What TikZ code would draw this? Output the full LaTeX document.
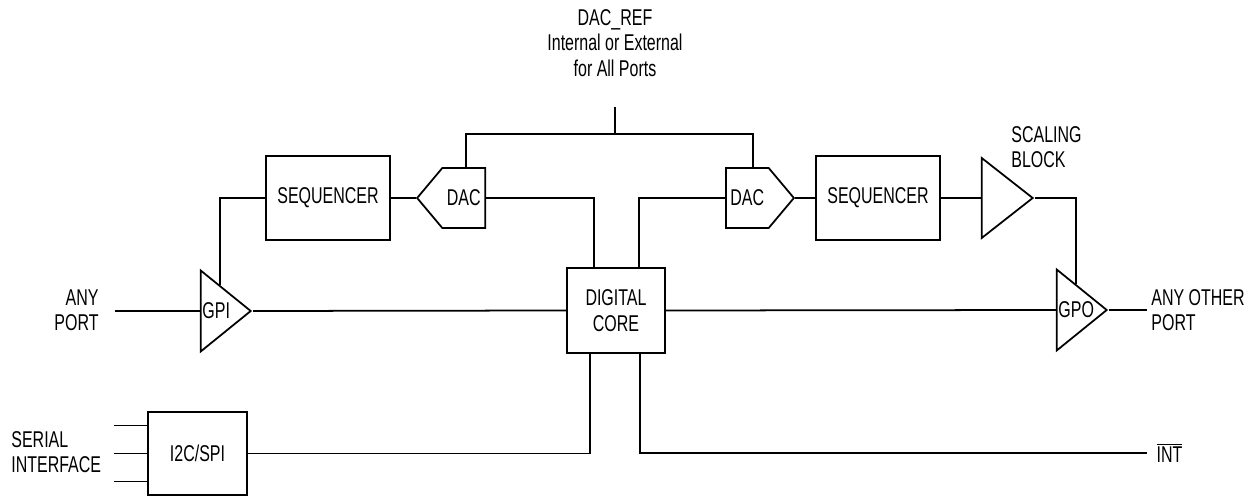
\documentclass[tikz,border=0pt]{standalone}
\usepackage{fontspec}
\setmainfont{Liberation Sans}[FakeStretch=0.7]
\usetikzlibrary{positioning, shapes.geometric, shapes.symbols}

\begin{document}
\begin{tikzpicture}[
        % Échelle : une unité = un pixel de l'image
        x=0.02cm, y=-0.02cm,
        line width=1pt,
        every node/.style = {font=\fontsize{13}{14.5}\selectfont},
        % Blocs rectangulaires
        block/.style = {
            rectangle,
            draw,
            line width=1pt,
            inner sep=0pt,
            align=center
        },
        % Convertisseurs (forme en flèche)
        dac/.style = {
            signal,
            draw,
            line width=1pt,
            signal from=nowhere,
            signal pointer angle=100,
            minimum width=1.36cm,
            minimum height=1.2cm,
            inner sep=0pt
        },
        % Amplificateurs (triangles)
        ampli/.style = {
            isosceles triangle,
            isosceles triangle stretches,
            draw,
            line width=1pt,
            inner sep=0pt,
            minimum width=1.62cm,
            minimum height=1cm
        },
        % Textes libres
        txt/.style = {inner sep=2pt, align=left}
    ]
        \useasboundingbox (0,0) rectangle (1257,496);

        % 1. Placement des nœuds
        \node (seqL)  [block, minimum width=2.48cm, minimum height=1.68cm] at (328,198) {SEQUENCER};
        \node (seqR)  [block, minimum width=2.48cm, minimum height=1.68cm] at (878,198) {SEQUENCER};
        \node (dacL)  [dac, signal to=west, anchor=east] at (486,198) {DAC};
        \node (dacR)  [dac, signal to=east, anchor=west] at (725,198) {DAC};
        \node (core)  [block, minimum width=1.96cm, minimum height=1.7cm] at (616,310.5) {DIGITAL\\CORE};
        \node (i2c)   [block, minimum width=1.98cm, minimum height=1.66cm] at (197.5,453.5) {I2C/SPI};
        \node (gpi)   [ampli, anchor=apex] at (253,311) {};
        \node (gpo)   [ampli, anchor=apex] at (1109,310) {};
        \node (scale) [ampli, anchor=apex, minimum width=1.6cm, minimum height=1.02cm] at (1035,198) {};
        \node (gpitxt) [txt, anchor=west, inner xsep=1pt] at (gpi.west) {GPI};
        \node (gpotxt) [txt, anchor=west, inner xsep=1pt] at (gpo.west) {GPO};

        % 2. Textes
        \node (ref)   [txt, align=center] at (615,43) {DAC\_REF\\Internal or External\\for All Ports};
        \node (anyin) [txt, align=right, anchor=east] at (103,310) {ANY\\PORT};
        \node (anyout) [txt, anchor=west] at (1147,310) {ANY OTHER\\PORT};
        \node (scaletxt) [txt, anchor=west] at (1007,147) {SCALING\\BLOCK};
        \node (serial) [txt, anchor=west] at (7,452) {SERIAL\\INTERFACE};
        \node (int)   [txt, anchor=west, inner xsep=5pt] at (1147,453) {$\overline{\mbox{INT}}$};

        \coordinate (refjoint) at (615,107);
        \coordinate (refbus) at (615,134);
        \coordinate (busL) at (466,134);
        \coordinate (busR) at (753,134);
        \coordinate (inL) at (115,311);

        % 3. Connexions
        \draw (refjoint) -- (refbus);
        \draw (busL |- dacL.north) -- (busL) -- (busR) -- (busR |- dacR.north);
        \draw (inL) -- (gpi.west);
        \draw (gpi.apex) -- (core.west);
        \draw (gpi.north) |- (seqL.west);
        \draw (seqL.east) -- (dacL.west);
        \draw (dacL.east) -| ([xshift=-0.44cm]core.north);
        \draw (dacR.west) -| ([xshift=0.46cm]core.north);
        \draw (dacR.east) -- (seqR.west);
        \draw (seqR.east) -- (scale.west);
        \draw (scale.apex) -| (gpo.north);
        \draw (core.east) -- (gpo.west);
        \draw (gpo.apex) -- (anyout.west);
        \foreach \dy in {-0.56,0,0.56}
            \draw ([yshift=\dy cm]i2c.west) -- ++(-33,0);
        \draw (i2c.east) -| ([xshift=-0.52cm]core.south);
        \draw ([xshift=0.48cm]core.south) |- (int.west);

    \end{tikzpicture}
\end{document}
